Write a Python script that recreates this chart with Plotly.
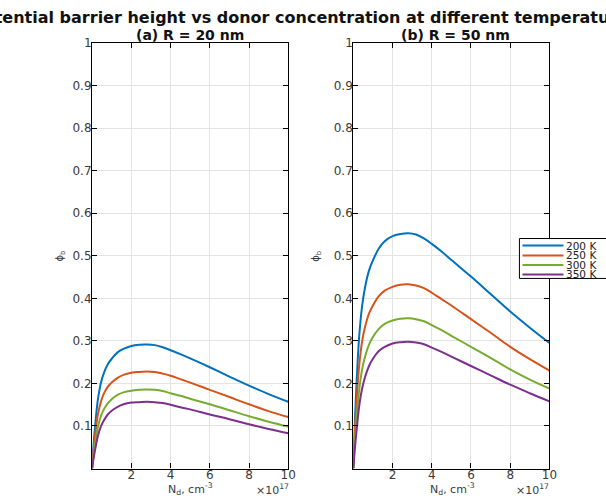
import plotly.graph_objects as go

# Donor concentration, units of 1e17 cm^-3
nd = [0, 0.05, 0.1, 0.2, 0.3, 0.45, 0.6, 0.8, 1.0, 1.3, 1.6, 2, 2.4, 2.8, 3.2, 3.6, 4, 4.5, 5, 6, 7, 8, 9, 10]

temps = ["200 K", "250 K", "300 K", "350 K"]
colors = ["#0072BD", "#D95319", "#77AC30", "#7E2F8E"]

# (a) R = 20 nm
phi_r20_200 = [0, 0.038, 0.070, 0.122, 0.163, 0.201, 0.224, 0.245, 0.258, 0.273, 0.281, 0.288, 0.291, 0.2915, 0.290, 0.285, 0.278, 0.269, 0.259, 0.238, 0.216, 0.195, 0.175, 0.157]
phi_r20_250 = [0, 0.030, 0.055, 0.096, 0.128, 0.157, 0.176, 0.192, 0.202, 0.213, 0.220, 0.225, 0.227, 0.228, 0.227, 0.223, 0.218, 0.210, 0.202, 0.185, 0.168, 0.151, 0.135, 0.121]
phi_r20_300 = [0, 0.021, 0.040, 0.072, 0.098, 0.123, 0.139, 0.153, 0.163, 0.173, 0.179, 0.183, 0.185, 0.186, 0.185, 0.182, 0.177, 0.171, 0.164, 0.151, 0.137, 0.123, 0.110, 0.0985]
phi_r20_350 = [0, 0.016, 0.030, 0.055, 0.077, 0.099, 0.113, 0.127, 0.136, 0.145, 0.151, 0.155, 0.156, 0.157, 0.156, 0.154, 0.150, 0.144, 0.139, 0.127, 0.116, 0.104, 0.093, 0.083]

# (b) R = 50 nm
phi_r50_200 = [0, 0.072, 0.133, 0.232, 0.310, 0.382, 0.426, 0.465, 0.489, 0.517, 0.534, 0.546, 0.551, 0.553, 0.550, 0.541, 0.528, 0.510, 0.490, 0.451, 0.410, 0.369, 0.331, 0.295]
phi_r50_250 = [0, 0.056, 0.104, 0.182, 0.242, 0.299, 0.333, 0.364, 0.383, 0.405, 0.418, 0.427, 0.432, 0.433, 0.430, 0.424, 0.413, 0.398, 0.383, 0.351, 0.319, 0.286, 0.257, 0.230]
phi_r50_300 = [0, 0.041, 0.076, 0.136, 0.185, 0.233, 0.263, 0.291, 0.309, 0.328, 0.340, 0.348, 0.352, 0.353, 0.351, 0.346, 0.337, 0.325, 0.312, 0.286, 0.260, 0.233, 0.209, 0.188]
phi_r50_350 = [0, 0.030, 0.057, 0.104, 0.146, 0.188, 0.215, 0.241, 0.258, 0.276, 0.286, 0.294, 0.297, 0.298, 0.296, 0.292, 0.284, 0.274, 0.263, 0.241, 0.219, 0.197, 0.177, 0.158]

x_ticks = [2, 4, 6, 8, 10]
y_ticks = [0.1, 0.2, 0.3, 0.4, 0.5, 0.6, 0.7, 0.8, 0.9, 1]
y_ticklabels = ["0.1", "0.2", "0.3", "0.4", "0.5", "0.6", "0.7", "0.8", "0.9", "1"]

W, H = 606, 496
FONT = "DejaVu Sans"


def px(X):
    return X / 597.5


def py(Y):
    return 1 - (Y - 6) / 490.0


fig = go.Figure()

left = [phi_r20_200, phi_r20_250, phi_r20_300, phi_r20_350]
right = [phi_r50_200, phi_r50_250, phi_r50_300, phi_r50_350]
for i in range(4):
    fig.add_trace(go.Scatter(x=nd, y=left[i], mode="lines",
                             line=dict(color=colors[i], width=2, shape="spline", smoothing=1.0),
                             name=temps[i], showlegend=False, xaxis="x", yaxis="y"))
for i in range(4):
    fig.add_trace(go.Scatter(x=nd, y=right[i], mode="lines",
                             line=dict(color=colors[i], width=2, shape="spline", smoothing=1.0),
                             name=temps[i], showlegend=False, xaxis="x2", yaxis="y2"))

ydom = [py(468.5), py(42)]
axis_common = dict(showline=True, linecolor="black", linewidth=1.2, mirror="ticks",
                   ticks="inside", ticklen=5, tickcolor="black", tickwidth=1,
                   showgrid=True, gridcolor="#e3e3e3", gridwidth=1, zeroline=False,
                   tickfont=dict(family=FONT, size=12, color="#3a3a3a"))
xax = dict(axis_common, ticklabelstandoff=-5)
yax = dict(axis_common, ticklabelstandoff=-3)

fig.update_layout(
    width=W, height=H,
    margin=dict(l=0, r=0, t=0, b=0),
    paper_bgcolor="white", plot_bgcolor="white",
    font=dict(family=FONT, color="#222222"),
    showlegend=False,
    xaxis=dict(domain=[px(92), px(288)], range=[0, 10], tickvals=x_ticks, anchor="y", **xax),
    yaxis=dict(domain=ydom, range=[0, 1], tickvals=y_ticks, ticktext=y_ticklabels, anchor="x", **yax),
    xaxis2=dict(domain=[px(353), px(549)], range=[0, 10], tickvals=x_ticks, anchor="y2", **xax),
    yaxis2=dict(domain=ydom, range=[0, 1], tickvals=y_ticks, ticktext=y_ticklabels, anchor="x2", **yax),
)

ann = []
ann.append(dict(text="<b>Potential barrier height vs donor concentration at different temperatures</b>",
                x=px(305), y=py(17), xref="paper", yref="paper", showarrow=False,
                font=dict(family=FONT, size=16, color="#111111"), xanchor="center", yanchor="middle"))
ann.append(dict(text="<b>(a) R = 20 nm</b>", x=px(190), y=py(34), xref="paper", yref="paper",
                showarrow=False, font=dict(family=FONT, size=14, color="#111111"), xanchor="center", yanchor="middle"))
ann.append(dict(text="<b>(b) R = 50 nm</b>", x=px(455), y=py(34), xref="paper", yref="paper",
                showarrow=False, font=dict(family=FONT, size=14, color="#111111"), xanchor="center", yanchor="middle"))
for cx in [190, 452]:
    ann.append(dict(text="N<sub>d</sub>, cm<sup>-3</sup>", x=px(cx), y=py(489), xref="paper", yref="paper",
                    showarrow=False, font=dict(family=FONT, size=11, color="#3a3a3a"), xanchor="center", yanchor="middle"))
for rx in [291, 551]:
    ann.append(dict(text="×10<sup>17</sup>", x=px(rx), y=py(489), xref="paper", yref="paper",
                    showarrow=False, font=dict(family=FONT, size=11, color="#3a3a3a"), xanchor="right", yanchor="middle"))
for lx in [60, 316]:
    ann.append(dict(text="ϕ<sub>b</sub>", x=px(lx), y=py(255), xref="paper", yref="paper", textangle=-90,
                    showarrow=False, font=dict(family=FONT, size=10, color="#3a3a3a"), xanchor="center", yanchor="middle"))

# Legend box (drawn as a MATLAB-style legend)
shapes = [dict(type="rect", xref="paper", yref="paper", x0=px(519), x1=px(640), y0=py(278), y1=py(238),
               line=dict(color="black", width=1), fillcolor="white", layer="above")]
leg_rows = [245, 255, 264.5, 274]
for i in range(4):
    shapes.append(dict(type="line", xref="paper", yref="paper", x0=px(522), x1=px(563),
                       y0=py(leg_rows[i]), y1=py(leg_rows[i]), line=dict(color=colors[i], width=2), layer="above"))
    ann.append(dict(text=temps[i], x=px(564), y=py(leg_rows[i]), xref="paper", yref="paper", showarrow=False,
                    font=dict(family=FONT, size=10.5, color="#222222"), xanchor="left", yanchor="middle"))

fig.update_layout(annotations=ann, shapes=shapes)

fig.write_html("out.html")
